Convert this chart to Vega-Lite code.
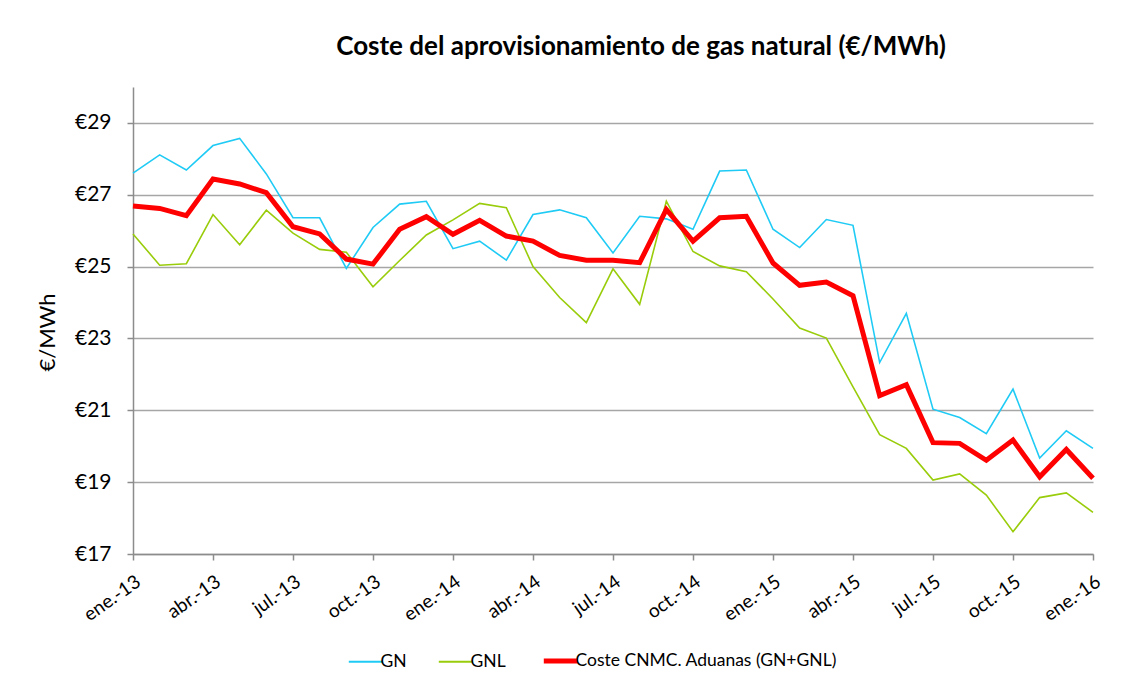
{
  "$schema": "https://vega.github.io/schema/vega-lite/v6.json",
  "width": 960,
  "height": 467,
  "autosize": {"type": "none"},
  "padding": {"left": 133, "top": 87, "right": 39, "bottom": 134},
  "background": "white",
  "title": {
    "text": "Coste del aprovisionamiento de gas natural (€/MWh)",
    "font": "Lato",
    "fontSize": 26,
    "fontWeight": "bold",
    "color": "black",
    "anchor": "middle",
    "dx": 28,
    "offset": 27
  },
  "config": {
    "font": "Lato",
    "view": {"stroke": null},
    "legend": {
      "orient": "none",
      "legendX": 224,
      "legendY": 565,
      "direction": "horizontal",
      "title": null,
      "symbolType": "stroke",
      "symbolSize": 1150,
      "labelFontSize": 17.5,
      "labelFont": "Lato",
      "labelColor": "black",
      "labelLimit": 500,
      "columnPadding": 27,
      "labelOffset": 6
    }
  },
  "data": {
    "values": [
      {"mes": "ene.-13", "serie": "GN", "valor": 27.60},
      {"mes": "feb.-13", "serie": "GN", "valor": 28.11},
      {"mes": "mar.-13", "serie": "GN", "valor": 27.69},
      {"mes": "abr.-13", "serie": "GN", "valor": 28.37},
      {"mes": "may.-13", "serie": "GN", "valor": 28.57},
      {"mes": "jun.-13", "serie": "GN", "valor": 27.58},
      {"mes": "jul.-13", "serie": "GN", "valor": 26.36},
      {"mes": "ago.-13", "serie": "GN", "valor": 26.36},
      {"mes": "sep.-13", "serie": "GN", "valor": 24.95},
      {"mes": "oct.-13", "serie": "GN", "valor": 26.09},
      {"mes": "nov.-13", "serie": "GN", "valor": 26.74},
      {"mes": "dic.-13", "serie": "GN", "valor": 26.82},
      {"mes": "ene.-14", "serie": "GN", "valor": 25.50},
      {"mes": "feb.-14", "serie": "GN", "valor": 25.71},
      {"mes": "mar.-14", "serie": "GN", "valor": 25.18},
      {"mes": "abr.-14", "serie": "GN", "valor": 26.45},
      {"mes": "may.-14", "serie": "GN", "valor": 26.58},
      {"mes": "jun.-14", "serie": "GN", "valor": 26.36},
      {"mes": "jul.-14", "serie": "GN", "valor": 25.38},
      {"mes": "ago.-14", "serie": "GN", "valor": 26.40},
      {"mes": "sep.-14", "serie": "GN", "valor": 26.33},
      {"mes": "oct.-14", "serie": "GN", "valor": 26.04},
      {"mes": "nov.-14", "serie": "GN", "valor": 27.66},
      {"mes": "dic.-14", "serie": "GN", "valor": 27.69},
      {"mes": "ene.-15", "serie": "GN", "valor": 26.04},
      {"mes": "feb.-15", "serie": "GN", "valor": 25.53},
      {"mes": "mar.-15", "serie": "GN", "valor": 26.31},
      {"mes": "abr.-15", "serie": "GN", "valor": 26.15},
      {"mes": "may.-15", "serie": "GN", "valor": 22.33},
      {"mes": "jun.-15", "serie": "GN", "valor": 23.70},
      {"mes": "jul.-15", "serie": "GN", "valor": 21.03},
      {"mes": "ago.-15", "serie": "GN", "valor": 20.80},
      {"mes": "sep.-15", "serie": "GN", "valor": 20.35},
      {"mes": "oct.-15", "serie": "GN", "valor": 21.59},
      {"mes": "nov.-15", "serie": "GN", "valor": 19.67},
      {"mes": "dic.-15", "serie": "GN", "valor": 20.43},
      {"mes": "ene.-16", "serie": "GN", "valor": 19.94},

      {"mes": "ene.-13", "serie": "GNL", "valor": 25.91},
      {"mes": "feb.-13", "serie": "GNL", "valor": 25.04},
      {"mes": "mar.-13", "serie": "GNL", "valor": 25.08},
      {"mes": "abr.-13", "serie": "GNL", "valor": 26.45},
      {"mes": "may.-13", "serie": "GNL", "valor": 25.61},
      {"mes": "jun.-13", "serie": "GNL", "valor": 26.57},
      {"mes": "jul.-13", "serie": "GNL", "valor": 25.93},
      {"mes": "ago.-13", "serie": "GNL", "valor": 25.48},
      {"mes": "sep.-13", "serie": "GNL", "valor": 25.40},
      {"mes": "oct.-13", "serie": "GNL", "valor": 24.44},
      {"mes": "nov.-13", "serie": "GNL", "valor": 25.17},
      {"mes": "dic.-13", "serie": "GNL", "valor": 25.88},
      {"mes": "ene.-14", "serie": "GNL", "valor": 26.30},
      {"mes": "feb.-14", "serie": "GNL", "valor": 26.76},
      {"mes": "mar.-14", "serie": "GNL", "valor": 26.64},
      {"mes": "abr.-14", "serie": "GNL", "valor": 25.00},
      {"mes": "may.-14", "serie": "GNL", "valor": 24.14},
      {"mes": "jun.-14", "serie": "GNL", "valor": 23.44},
      {"mes": "jul.-14", "serie": "GNL", "valor": 24.94},
      {"mes": "ago.-14", "serie": "GNL", "valor": 23.95},
      {"mes": "sep.-14", "serie": "GNL", "valor": 26.82},
      {"mes": "oct.-14", "serie": "GNL", "valor": 25.42},
      {"mes": "nov.-14", "serie": "GNL", "valor": 25.02},
      {"mes": "dic.-14", "serie": "GNL", "valor": 24.86},
      {"mes": "ene.-15", "serie": "GNL", "valor": 24.10},
      {"mes": "feb.-15", "serie": "GNL", "valor": 23.29},
      {"mes": "mar.-15", "serie": "GNL", "valor": 23.01},
      {"mes": "abr.-15", "serie": "GNL", "valor": 21.65},
      {"mes": "may.-15", "serie": "GNL", "valor": 20.32},
      {"mes": "jun.-15", "serie": "GNL", "valor": 19.94},
      {"mes": "jul.-15", "serie": "GNL", "valor": 19.06},
      {"mes": "ago.-15", "serie": "GNL", "valor": 19.23},
      {"mes": "sep.-15", "serie": "GNL", "valor": 18.64},
      {"mes": "oct.-15", "serie": "GNL", "valor": 17.62},
      {"mes": "nov.-15", "serie": "GNL", "valor": 18.57},
      {"mes": "dic.-15", "serie": "GNL", "valor": 18.70},
      {"mes": "ene.-16", "serie": "GNL", "valor": 18.16},

      {"mes": "ene.-13", "serie": "Coste CNMC. Aduanas (GN+GNL)", "valor": 26.69},
      {"mes": "feb.-13", "serie": "Coste CNMC. Aduanas (GN+GNL)", "valor": 26.62},
      {"mes": "mar.-13", "serie": "Coste CNMC. Aduanas (GN+GNL)", "valor": 26.42},
      {"mes": "abr.-13", "serie": "Coste CNMC. Aduanas (GN+GNL)", "valor": 27.44},
      {"mes": "may.-13", "serie": "Coste CNMC. Aduanas (GN+GNL)", "valor": 27.30},
      {"mes": "jun.-13", "serie": "Coste CNMC. Aduanas (GN+GNL)", "valor": 27.06},
      {"mes": "jul.-13", "serie": "Coste CNMC. Aduanas (GN+GNL)", "valor": 26.11},
      {"mes": "ago.-13", "serie": "Coste CNMC. Aduanas (GN+GNL)", "valor": 25.91},
      {"mes": "sep.-13", "serie": "Coste CNMC. Aduanas (GN+GNL)", "valor": 25.21},
      {"mes": "oct.-13", "serie": "Coste CNMC. Aduanas (GN+GNL)", "valor": 25.07},
      {"mes": "nov.-13", "serie": "Coste CNMC. Aduanas (GN+GNL)", "valor": 26.04},
      {"mes": "dic.-13", "serie": "Coste CNMC. Aduanas (GN+GNL)", "valor": 26.39},
      {"mes": "ene.-14", "serie": "Coste CNMC. Aduanas (GN+GNL)", "valor": 25.90},
      {"mes": "feb.-14", "serie": "Coste CNMC. Aduanas (GN+GNL)", "valor": 26.29},
      {"mes": "mar.-14", "serie": "Coste CNMC. Aduanas (GN+GNL)", "valor": 25.85},
      {"mes": "abr.-14", "serie": "Coste CNMC. Aduanas (GN+GNL)", "valor": 25.71},
      {"mes": "may.-14", "serie": "Coste CNMC. Aduanas (GN+GNL)", "valor": 25.31},
      {"mes": "jun.-14", "serie": "Coste CNMC. Aduanas (GN+GNL)", "valor": 25.18},
      {"mes": "jul.-14", "serie": "Coste CNMC. Aduanas (GN+GNL)", "valor": 25.18},
      {"mes": "ago.-14", "serie": "Coste CNMC. Aduanas (GN+GNL)", "valor": 25.11},
      {"mes": "sep.-14", "serie": "Coste CNMC. Aduanas (GN+GNL)", "valor": 26.59},
      {"mes": "oct.-14", "serie": "Coste CNMC. Aduanas (GN+GNL)", "valor": 25.71},
      {"mes": "nov.-14", "serie": "Coste CNMC. Aduanas (GN+GNL)", "valor": 26.36},
      {"mes": "dic.-14", "serie": "Coste CNMC. Aduanas (GN+GNL)", "valor": 26.40},
      {"mes": "ene.-15", "serie": "Coste CNMC. Aduanas (GN+GNL)", "valor": 25.10},
      {"mes": "feb.-15", "serie": "Coste CNMC. Aduanas (GN+GNL)", "valor": 24.48},
      {"mes": "mar.-15", "serie": "Coste CNMC. Aduanas (GN+GNL)", "valor": 24.57},
      {"mes": "abr.-15", "serie": "Coste CNMC. Aduanas (GN+GNL)", "valor": 24.19},
      {"mes": "may.-15", "serie": "Coste CNMC. Aduanas (GN+GNL)", "valor": 21.41},
      {"mes": "jun.-15", "serie": "Coste CNMC. Aduanas (GN+GNL)", "valor": 21.71},
      {"mes": "jul.-15", "serie": "Coste CNMC. Aduanas (GN+GNL)", "valor": 20.10},
      {"mes": "ago.-15", "serie": "Coste CNMC. Aduanas (GN+GNL)", "valor": 20.08},
      {"mes": "sep.-15", "serie": "Coste CNMC. Aduanas (GN+GNL)", "valor": 19.61},
      {"mes": "oct.-15", "serie": "Coste CNMC. Aduanas (GN+GNL)", "valor": 20.17},
      {"mes": "nov.-15", "serie": "Coste CNMC. Aduanas (GN+GNL)", "valor": 19.15},
      {"mes": "dic.-15", "serie": "Coste CNMC. Aduanas (GN+GNL)", "valor": 19.91},
      {"mes": "ene.-16", "serie": "Coste CNMC. Aduanas (GN+GNL)", "valor": 19.11}
    ]
  },
  "encoding": {
    "x": {
      "field": "mes",
      "type": "ordinal",
      "sort": null,
      "scale": {"type": "point", "padding": 0},
      "axis": {
        "title": null,
        "values": ["ene.-13", "abr.-13", "jul.-13", "oct.-13", "ene.-14", "abr.-14", "jul.-14", "oct.-14", "ene.-15", "abr.-15", "jul.-15", "oct.-15", "ene.-16"],
        "labelAngle": -35,
        "labelAlign": "right",
        "labelBaseline": "top",
        "labelPadding": 12,
        "labelFontSize": 19,
        "labelColor": "black",
        "labelFont": "Lato",
        "labelOverlap": false,
        "labelBound": false,
        "domainColor": "#8C8C8C",
        "domainWidth": 1.5,
        "tickColor": "#8C8C8C",
        "tickWidth": 1.5,
        "tickSize": 6,
        "grid": false
      }
    },
    "y": {
      "field": "valor",
      "type": "quantitative",
      "scale": {"domain": [17, 30], "nice": false, "zero": false},
      "axis": {
        "title": "€/MWh",
        "titleFont": "Lato",
        "titleFontSize": 22,
        "titleFontWeight": "normal",
        "titleColor": "black",
        "titleAngle": -90,
        "titleX": -86,
        "titleY": 245,
        "titleAlign": "center",
        "titleBaseline": "middle",
        "values": [17, 19, 21, 23, 25, 27, 29],
        "labelExpr": "'€' + datum.value",
        "labelFontSize": 21,
        "labelColor": "black",
        "labelFont": "Lato",
        "labelPadding": 16,
        "domainColor": "#8C8C8C",
        "domainWidth": 1.5,
        "tickColor": "#8C8C8C",
        "tickWidth": 1.5,
        "tickSize": 6,
        "grid": true,
        "gridColor": "#A6A6A6",
        "gridWidth": 1.5
      }
    },
    "color": {
      "field": "serie",
      "type": "nominal",
      "scale": {
        "domain": ["GN", "GNL", "Coste CNMC. Aduanas (GN+GNL)"],
        "range": ["#1FCBF5", "#99CC0A", "#FF0000"]
      },
      "legend": {
        "encode": {
          "symbols": {
            "update": {
              "strokeWidth": {"signal": "datum.value === 'Coste CNMC. Aduanas (GN+GNL)' ? 5 : 2"}
            }
          }
        }
      }
    }
  },
  "layer": [
    {
      "transform": [{"filter": {"field": "serie", "oneOf": ["GN", "GNL"]}}],
      "mark": {"type": "line", "strokeWidth": 1.6}
    },
    {
      "transform": [{"filter": {"field": "serie", "equal": "Coste CNMC. Aduanas (GN+GNL)"}}],
      "mark": {"type": "line", "strokeWidth": 5}
    }
  ]
}
